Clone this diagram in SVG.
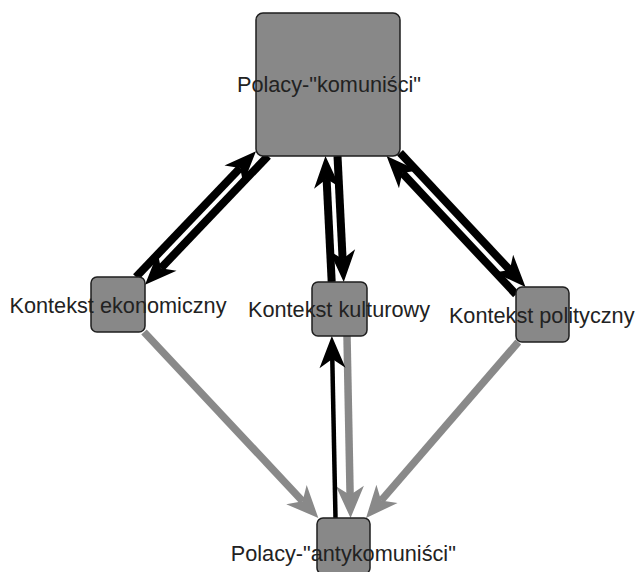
<svg xmlns="http://www.w3.org/2000/svg" width="635" height="572" viewBox="0 0 635 572">
  <style>
    .node rect { fill: #888888; stroke: #1e1e1e; stroke-width: 1.5; }
    .label { font-family: "Liberation Sans", Arial, sans-serif; font-size: 21.7px; fill: #222222; text-anchor: middle; }
    .e-black { stroke: #000000; stroke-width: 8; fill: none; }
    .e-thin { stroke: #000000; stroke-width: 4.5; fill: none; }
    .e-gray { stroke: #898989; stroke-width: 7.5; fill: none; }
  </style>
  <defs>
    <marker id="arrow-black" markerUnits="userSpaceOnUse" markerWidth="32" markerHeight="26" viewBox="0 -13 32 26" refX="9" refY="0" orient="auto" overflow="visible">
      <path d="M0,-13 L32,0 L0,13 L9,0 Z" fill="#000000"/>
    </marker>
    <marker id="arrow-gray" markerUnits="userSpaceOnUse" markerWidth="32" markerHeight="28" viewBox="0 -14 32 28" refX="9" refY="0" orient="auto" overflow="visible">
      <path d="M0,-14 L32,0 L0,14 L9,0 Z" fill="#898989"/>
    </marker>
  </defs>

  <g id="connectors">
    <!-- Polacy-"komunisci" <-> Kontekst ekonomiczny -->
    <path class="e-black" d="M136,277 L240.1,167.9" marker-end="url(#arrow-black)"/>
    <path class="e-black" d="M268,156 L160.9,268.2" marker-end="url(#arrow-black)"/>
    <!-- Polacy-"komunisci" <-> Kontekst kulturowy -->
    <path class="e-black" d="M331.7,282 L326.6,179" marker-end="url(#arrow-black)"/>
    <path class="e-black" d="M337.5,156 L342.6,259" marker-end="url(#arrow-black)"/>
    <!-- Polacy-"komunisci" <-> Kontekst polityczny -->
    <path class="e-black" d="M516,294.4 L402.3,172.9" marker-end="url(#arrow-black)"/>
    <path class="e-black" d="M400,152.7 L509.8,270.1" marker-end="url(#arrow-black)"/>
    <!-- contexts -> Polacy-"antykomunisci" -->
    <path class="e-gray" d="M144,332 L302.6,501.2" marker-end="url(#arrow-gray)"/>
    <path class="e-gray" d="M347,336 L350.1,495" marker-end="url(#arrow-gray)"/>
    <path class="e-gray" d="M518.3,342 L381.1,500.6" marker-end="url(#arrow-gray)"/>
    <!-- Polacy-"antykomunisci" -> Kontekst kulturowy -->
    <path class="e-thin" d="M335.5,518 L332.3,359" marker-end="url(#arrow-black)"/>
  </g>

  <g id="node-komunisci" class="node">
    <rect x="256" y="13" width="144" height="143" rx="7"/>
    <text class="label" x="329" y="92">Polacy-"komuniści"</text>
  </g>
  <g id="node-ekonomiczny" class="node">
    <rect x="91" y="277" width="54" height="55" rx="6"/>
    <text class="label" x="118" y="313">Kontekst ekonomiczny</text>
  </g>
  <g id="node-kulturowy" class="node">
    <rect x="312" y="282" width="55" height="54" rx="6"/>
    <text class="label" x="339" y="316.5">Kontekst kulturowy</text>
  </g>
  <g id="node-polityczny" class="node">
    <rect x="516" y="287" width="53" height="55" rx="6"/>
    <text class="label" x="541.7" y="323">Kontekst polityczny</text>
  </g>
  <g id="node-antykomunisci" class="node">
    <rect x="317" y="518" width="53" height="56" rx="6"/>
    <text class="label" x="343.3" y="561">Polacy-"antykomuniści"</text>
  </g>
</svg>
